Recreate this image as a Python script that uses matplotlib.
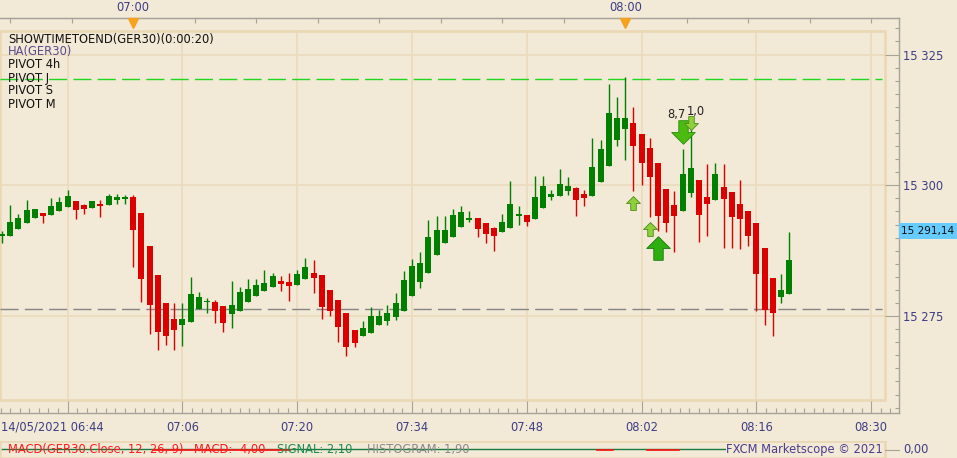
import matplotlib
matplotlib.use("Agg")
import matplotlib.pyplot as plt
import matplotlib.transforms as mtransforms
from matplotlib.patches import Rectangle
from matplotlib.path import Path
from matplotlib.ticker import MultipleLocator, FuncFormatter
import numpy as np
import pandas as pd

# --- data (GER30 Heikin-Ashi, 1 minute, from 14/05/2021 06:44) ---
start = pd.Timestamp("2021-05-14 06:44")
opens = [15290.4, 15290.4, 15291.6, 15292.7, 15293.8, 15294.7, 15294.4, 15295.1, 15295.9, 15297.0,
         15296.2, 15295.7, 15296.4, 15296.3, 15297.1, 15297.4, 15297.8, 15294.7, 15288.4, 15282.8,
         15277.5, 15274.4, 15273.3, 15273.9, 15276.4, 15277.6, 15277.7, 15276.9, 15275.3, 15276.0,
         15277.7, 15278.9, 15279.8, 15280.6, 15281.7, 15281.5, 15281.0, 15282.0, 15283.2, 15282.8,
         15280.0, 15278.1, 15275.6, 15272.3, 15271.1, 15271.8, 15273.3, 15274.1, 15274.9, 15276.0,
         15278.9, 15281.6, 15283.3, 15286.7, 15289.0, 15290.2, 15292.1, 15293.4, 15293.7, 15292.8,
         15291.8, 15291.1, 15291.9, 15294.2, 15294.3, 15293.6, 15295.7, 15297.7, 15298.0, 15299.0,
         15299.5, 15298.3, 15298.0, 15300.6, 15303.7, 15308.7, 15310.8, 15311.9, 15309.8, 15307.1,
         15304.3, 15299.3, 15296.2, 15295.1, 15298.6, 15301.0, 15297.8, 15297.1, 15299.7, 15298.7,
         15296.4, 15295.1, 15292.8, 15288.0, 15282.3, 15278.7, 15279.3]
highs = [15291.3, 15296.2, 15294.5, 15297.2, 15295.5, 15294.7, 15297.6, 15297.8, 15299.1, 15297.0,
         15296.4, 15297.0, 15297.2, 15298.3, 15298.3, 15298.1, 15298.1, 15294.7, 15288.4, 15282.8,
         15277.5, 15277.5, 15277.5, 15282.5, 15279.6, 15278.5, 15278.1, 15276.9, 15281.7, 15280.6,
         15282.1, 15282.1, 15283.8, 15283.2, 15282.7, 15283.2, 15283.8, 15286.1, 15285.7, 15282.8,
         15280.0, 15278.1, 15275.6, 15272.3, 15274.1, 15276.7, 15276.2, 15277.1, 15279.4, 15283.6,
         15285.9, 15287.2, 15293.4, 15294.1, 15294.1, 15295.5, 15296.0, 15295.1, 15293.7, 15292.8,
         15292.0, 15294.5, 15300.8, 15296.0, 15294.3, 15301.8, 15301.8, 15299.1, 15303.1, 15301.6,
         15299.7, 15299.1, 15309.0, 15308.7, 15319.4, 15316.9, 15320.7, 15315.0, 15309.8, 15309.0,
         15304.3, 15299.3, 15298.9, 15306.9, 15311.5, 15301.0, 15304.1, 15304.3, 15304.1, 15298.7,
         15301.0, 15295.1, 15292.8, 15288.0, 15282.3, 15283.0, 15291.1]
lows = [15288.9, 15290.4, 15291.6, 15292.7, 15293.8, 15292.8, 15294.4, 15295.1, 15295.9, 15293.6,
        15294.6, 15295.7, 15294.0, 15296.3, 15296.5, 15296.5, 15284.4, 15277.7, 15271.6, 15268.6,
        15269.5, 15268.6, 15269.3, 15273.9, 15276.4, 15275.5, 15273.7, 15272.0, 15272.8, 15276.0,
        15277.7, 15278.9, 15279.8, 15280.6, 15279.7, 15277.9, 15281.0, 15282.0, 15279.5, 15274.5,
        15275.1, 15270.1, 15267.4, 15269.1, 15271.1, 15271.8, 15273.3, 15273.3, 15274.3, 15276.0,
        15278.9, 15280.4, 15283.3, 15286.7, 15289.0, 15290.2, 15292.1, 15293.0, 15290.2, 15289.0,
        15287.5, 15291.1, 15291.9, 15292.5, 15292.3, 15293.6, 15295.7, 15297.1, 15298.0, 15298.2,
        15294.2, 15296.1, 15298.0, 15300.6, 15303.7, 15307.5, 15304.8, 15298.9, 15300.1, 15294.0,
        15291.3, 15291.1, 15287.3, 15295.1, 15297.8, 15289.2, 15290.4, 15297.1, 15288.1, 15288.1,
        15287.9, 15288.3, 15276.0, 15273.2, 15271.1, 15277.4, 15279.3]
closes = [15290.7, 15293.0, 15293.7, 15295.3, 15295.5, 15294.2, 15296.0, 15296.8, 15298.0, 15295.3,
          15295.5, 15297.0, 15296.1, 15298.0, 15297.8, 15297.8, 15291.5, 15282.1, 15277.2, 15272.0,
          15271.2, 15272.4, 15274.4, 15279.2, 15278.6, 15277.7, 15276.0, 15273.7, 15277.1, 15279.6,
          15280.2, 15280.9, 15281.3, 15282.7, 15281.2, 15280.8, 15283.0, 15284.4, 15282.3, 15276.8,
          15276.0, 15273.0, 15269.0, 15269.9, 15272.7, 15275.0, 15275.0, 15275.6, 15277.5, 15281.9,
          15284.6, 15285.1, 15290.1, 15291.5, 15291.5, 15294.3, 15294.9, 15293.7, 15291.7, 15290.6,
          15290.4, 15293.0, 15296.4, 15294.3, 15293.0, 15297.8, 15299.9, 15298.3, 15300.2, 15299.9,
          15297.1, 15297.6, 15303.5, 15306.9, 15313.8, 15312.9, 15312.9, 15307.6, 15304.3, 15301.5,
          15294.2, 15292.8, 15294.2, 15302.2, 15303.3, 15294.4, 15296.5, 15302.2, 15297.4, 15294.0,
          15293.6, 15290.4, 15283.1, 15276.2, 15275.5, 15280.0, 15285.7]

pivot_green = 15320.3
pivot_gray = 15276.3
last_price = 15291.14

# signal arrows (candle index, price)
up_small_idx = [77, 79]
up_small_px = [15296.7, 15291.6]
up_big_idx = [80]
up_big_px = [15288.0]
dn_big_idx = [83]
dn_big_px = [15310.2]
dn_small_idx = [84]
dn_small_px = [15311.9]
sig_text_idx = [82.3, 84.6]
sig_text_px = [15313.6, 15314.2]
sig_text = ["8,7", "1,0"]

legend_lines = ["SHOWTIMETOEND(GER30)(0:00:20)", "HA(GER30)", "PIVOT 4h", "PIVOT J", "PIVOT S", "PIVOT M"]
legend_colors = ["#111111", "#5a4a8c", "#111111", "#111111", "#111111", "#111111"]

# MACD strip (flattened lines, candle index spans)
signal_span = (0, 88.5)
macd_spans = [(18.4, 35.1), (72.6, 74.5), (78.7, 82.6)]

# --- style ---
BG = "#f2e9d6"
GRID = "#ecdcbf"
PANEL = "#ebd7b3"
AXC = "#a6a39b"
LBL = "#3d3d85"
GREEN = "#007f00"
RED = "#dc0000"
FS = 8.3

W, H = 957, 458
fig = plt.figure(figsize=(W / 100, H / 100), dpi=100)
fig.patch.set_facecolor(BG)
plt.rcParams["font.family"] = ["DejaVu Sans"]

PXM = 8.2      # pixels per minute
X0PX = 2.0     # pixel of first candle
PXP = 5.23     # pixels per point


def px2x(px):
    return (px - X0PX) / PXM


def px2y(py):
    return 15300 + (185.3 - py) / PXP


ax = fig.add_axes([0, 1 - 413 / H, 899 / W, 395 / H])
ax.set_facecolor(BG)
ax.set_xlim(px2x(0), px2x(899))
ax.set_ylim(px2y(413), px2y(18))

minutes = np.arange(len(opens))
o = np.array(opens)
c = np.array(closes)
up = c >= o
colors = np.where(up, GREEN, RED)

# grid inside the inner panel
for p in [15275, 15300, 15325]:
    ax.plot([px2x(0), px2x(885)], [p, p], color=GRID, lw=1.3, zorder=1)
for m in range(8, 110, 14):
    ax.plot([m, m], [px2y(400), px2y(31)], color=GRID, lw=1.3, zorder=1)

ax.add_patch(Rectangle((0, 13 / 395), 885 / 899, 369 / 395, transform=ax.transAxes,
                       fill=False, ec=PANEL, lw=1.8, zorder=1.5))

# pivots
ax.plot([px2x(0), px2x(882)], [pivot_green, pivot_green], color="#1fd81f", lw=1.0,
        dashes=(13, 4.5), zorder=2)
ax.plot([px2x(0), px2x(882)], [pivot_gray, pivot_gray], color="#858585", lw=1.0,
        dashes=(13, 4.5), zorder=2)

# candles
ax.vlines(minutes, lows, highs, colors=colors, lw=1.0, zorder=3)
body_h = np.maximum(np.abs(c - o), 0.25)
ax.bar(minutes, body_h, bottom=np.minimum(o, c), width=0.72, color=colors, zorder=4)

# arrows
arrow_up = Path([(-0.2, -0.5), (0.2, -0.5), (0.2, 0.0), (0.5, 0.0), (0.0, 0.5),
                 (-0.5, 0.0), (-0.2, 0.0), (-0.2, -0.5)], closed=True)
arrow_dn = Path([(x, -y) for x, y in arrow_up.vertices], closed=True)
ax.plot(up_small_idx, up_small_px, ls="none", marker=arrow_up, ms=10,
        mfc="#8fcf3a", mec="#4d8c1a", mew=0.6, zorder=5)
ax.plot(up_big_idx, up_big_px, ls="none", marker=arrow_up, ms=17,
        mfc="#2fae12", mec="#1b7a10", mew=0.6, zorder=5)
ax.plot(dn_big_idx, dn_big_px, ls="none", marker=arrow_dn, ms=17,
        mfc="#4cbb10", mec="#2d8a10", mew=0.6, zorder=5)
ax.plot(dn_small_idx, dn_small_px, ls="none", marker=arrow_dn, ms=10,
        mfc="#8fcf3a", mec="#4d8c1a", mew=0.6, zorder=6)
for xi, yi, t in zip(sig_text_idx, sig_text_px, sig_text):
    ax.text(xi, yi, t, fontsize=FS, color="#222222", ha="center", va="center", zorder=7)

# spines / axes
ax.spines["left"].set_visible(False)
for s in ["top", "bottom", "right"]:
    ax.spines[s].set_color(AXC)
    ax.spines[s].set_linewidth(1.0)

ax.yaxis.tick_right()
ax.yaxis.set_major_locator(MultipleLocator(25))
ax.yaxis.set_minor_locator(MultipleLocator(2.5))
ax.yaxis.set_major_formatter(FuncFormatter(lambda v, pos: f"{v:,.0f}".replace(",", " ")))
ax.tick_params(axis="y", which="major", direction="in", length=10, width=0.8, color=AXC,
               pad=3, labelsize=FS, labelcolor=LBL)
ax.tick_params(axis="y", which="minor", direction="in", length=3.1, width=0.8, color=AXC)


def bottom_fmt(v, pos):
    if v < 10:
        return ""
    return (start + pd.Timedelta(minutes=round(v))).strftime("%H:%M")


ax.xaxis.set_major_locator(MultipleLocator(14, offset=8))
ax.xaxis.set_minor_locator(MultipleLocator(14 / 12, offset=8))
ax.xaxis.set_major_formatter(FuncFormatter(bottom_fmt))
ax.tick_params(axis="x", which="major", direction="in", length=8.5, width=0.8, color=AXC,
               pad=6, labelsize=FS, labelcolor=LBL)
ax.tick_params(axis="x", which="minor", direction="in", length=3.4, width=0.8, color=AXC)
fig.text(1 / W, 1 - 427 / H, start.strftime("%d/%m/%Y %H:%M"), fontsize=FS, color=LBL,
         ha="left", va="center")


def top_fmt(v, pos):
    t = start + pd.Timedelta(minutes=v)
    return t.strftime("%H:%M") if t.minute == 0 and t.second == 0 else ""


top = ax.secondary_xaxis("top")
top.xaxis.set_major_locator(MultipleLocator(7.5, offset=1))
top.xaxis.set_major_formatter(FuncFormatter(top_fmt))
top.tick_params(axis="x", direction="in", length=3.6, width=0.8, color=AXC, pad=3,
                labelsize=FS, labelcolor=LBL)
top.spines["top"].set_color(AXC)

hour_marks = [16, 76]
blend = mtransforms.blended_transform_factory(ax.transData, ax.transAxes)
ax.plot(hour_marks, [(413 - 22.5) / 395] * 2, "v", color="#f7a21f", ms=6.5,
        transform=blend, clip_on=False, zorder=8)

# legend text
for i, (t, col) in enumerate(zip(legend_lines, legend_colors)):
    fig.text(8 / W, 1 - (39 + 13 * i) / H, t, fontsize=FS, color=col, ha="left", va="center")

# current price tag
fig.patches.append(Rectangle((899 / W, 1 - 239 / H), 58 / W, 16 / H, transform=fig.transFigure,
                             fc="#66ccff", ec="none", zorder=10))
fig.text(901 / W, 1 - 231 / H, f"{last_price:,.2f}".replace(",", " ").replace(".", ","),
         fontsize=7.6, color="#111111", ha="left", va="center", zorder=11)

# MACD strip
mx = fig.add_axes([0, 0, 899 / W, 17 / H])
mx.set_xlim(px2x(0), px2x(899))
mx.set_ylim(-1.1, 0.9)
mx.axis("off")
mx.add_patch(Rectangle((0, 0), 885 / 899, 1.0, transform=mx.transAxes, fill=False,
                       ec=PANEL, lw=1.8))
mx.plot(list(signal_span), [0, 0], color="#1a7a40", lw=1.0)
for a, b in macd_spans:
    mx.plot([a, b], [-0.1, -0.1], color="#ff1010", lw=1.2)
fig.text(8 / W, 1 - 450 / H, "MACD(GER30.Close, 12, 26, 9)", fontsize=FS, color="#ff1a1a",
         ha="left", va="center")
fig.text(194 / W, 1 - 450 / H, "MACD: -4,00", fontsize=FS, color="#ff1a1a", ha="left", va="center")
fig.text(277 / W, 1 - 450 / H, "SIGNAL: 2,10", fontsize=FS, color="#1a8a50", ha="left", va="center")
fig.text(367 / W, 1 - 450 / H, "HISTOGRAM: 1,90", fontsize=FS, color="#8a8a8a", ha="left",
         va="center")
fig.text(883 / W, 1 - 450 / H, "FXCM Marketscope \u00a9 2021", fontsize=FS, color="#4b3c8c",
         ha="right", va="center", bbox=dict(fc=BG, ec="none", pad=0.5))
fig.lines.append(plt.Line2D([885 / W, 899 / W], [1 - 450 / H] * 2, transform=fig.transFigure,
                            color=AXC, lw=0.8))
fig.text(903 / W, 1 - 450 / H, "0,00", fontsize=FS, color=LBL, ha="left", va="center")

fig.savefig("out.png", dpi=100, facecolor=BG)
